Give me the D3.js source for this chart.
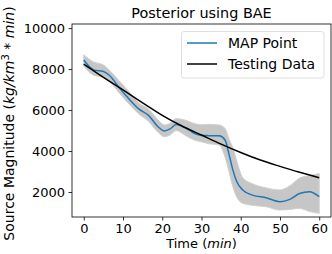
<!DOCTYPE html>
<html>
<head>
<meta charset="utf-8">
<script src="https://cdn.jsdelivr.net/npm/d3@7"></script>
<style>
  body { margin: 0; background: #fff; }
  text { font-family: "DejaVu Sans", sans-serif; fill: #000; }
</style>
</head>
<body>
<div id="chart"></div>
<script>
const width = 332,
  height = 254,
  margin = {top: 24, right: 1, bottom: 37, left: 72};

// time points (min) where the curves were read
const mapTimes = [0, 2.5, 5, 6.5, 9, 11.5, 14, 16.5, 19, 20.5, 22, 23.5, 26, 28, 30, 32, 34.5, 36, 37, 38, 39, 40.5, 43, 46.5, 50, 52.5, 55, 57.5, 60];
// MAP point (blue)
const mapValues = [8440, 7960, 7880, 7700, 7100, 6550, 6060, 5740, 5170, 4980, 5080, 5290, 5120, 4880, 4760, 4750, 4740, 4540, 3850, 3070, 2500, 2100, 1850, 1720, 1530, 1640, 1930, 2010, 1770];
// spread of the posterior samples (grey)
const bandUpper = [8700, 8350, 8200, 7950, 7430, 6900, 6350, 6050, 5500, 5270, 5350, 5580, 5500, 5350, 5280, 5300, 5270, 5100, 4600, 4150, 3500, 2700, 2400, 2200, 2100, 2300, 2680, 2800, 2900];
const bandLower = [8150, 7700, 7600, 7400, 6850, 6300, 5820, 5450, 4900, 4700, 4780, 5000, 4750, 4550, 4450, 4350, 4300, 3700, 3000, 2250, 1750, 1450, 1350, 1280, 1120, 1150, 1200, 1050, 960];

// testing data (black)
const testTimes = [0, 5, 10, 15, 20, 25, 30, 35, 40, 45, 50, 55, 60];
const testValues = [8240, 7600, 6980, 6350, 5740, 5220, 4780, 4340, 3930, 3560, 3250, 2960, 2700];

const xTicks = [0, 10, 20, 30, 40, 50, 60];
const yTicks = [2000, 4000, 6000, 8000, 10000];

const svg = d3.select("#chart").append("svg")
    .attr("width", width)
    .attr("height", height);

const x = d3.scaleLinear()
    .domain([-3, 63])
    .range([margin.left, width - margin.right]);

const y = d3.scaleLinear()
    .domain([780, 10200])
    .range([height - margin.bottom, margin.top]);

// grey band
const band = d3.area()
    .x(function(d, i) { return x(mapTimes[i]); })
    .y0(function(d, i) { return y(bandLower[i]); })
    .y1(function(d, i) { return y(bandUpper[i]); })
    .curve(d3.curveMonotoneX);

svg.append("path")
    .attr("d", band(mapTimes))
    .style("fill", "#c6c6c6")
    .style("stroke", "#d0d0d0")
    .style("stroke-width", 1);

const line = d3.line()
    .x(function(d) { return x(d[0]); })
    .y(function(d) { return y(d[1]); })
    .curve(d3.curveMonotoneX);

svg.append("path")
    .attr("d", line(d3.zip(mapTimes, mapValues)))
    .style("fill", "none")
    .style("stroke", "#1f77b4")
    .style("stroke-width", 1.5);

svg.append("path")
    .attr("d", line(d3.zip(testTimes, testValues)))
    .style("fill", "none")
    .style("stroke", "#000")
    .style("stroke-width", 1.5);

// axes
const xAxis = svg.append("g")
    .attr("transform", "translate(0," + (height - margin.bottom) + ")")
    .call(d3.axisBottom(x).tickValues(xTicks).tickSize(3.5).tickPadding(3.5).tickSizeOuter(0));

const yAxis = svg.append("g")
    .attr("transform", "translate(" + margin.left + ",0)")
    .call(d3.axisLeft(y).tickValues(yTicks).tickSize(3.5).tickPadding(3.5).tickSizeOuter(0).tickFormat(d3.format("d")));

[xAxis, yAxis].forEach(function(a) {
  a.select(".domain").remove();
  a.selectAll("line").style("stroke", "#000").style("stroke-width", 0.8);
  a.selectAll("text").style("font-size", "13px").style("font-family", "DejaVu Sans");
});

// frame
svg.append("rect")
    .attr("x", margin.left)
    .attr("y", margin.top)
    .attr("width", width - margin.left - margin.right)
    .attr("height", height - margin.top - margin.bottom)
    .style("fill", "none")
    .style("stroke", "#000")
    .style("stroke-width", 0.8);

// title
svg.append("text")
    .attr("x", (margin.left + width - margin.right) / 2)
    .attr("y", 18)
    .attr("text-anchor", "middle")
    .style("font-size", "14.4px")
    .text("Posterior using BAE");

// x label
const xl = svg.append("text")
    .attr("x", (margin.left + width - margin.right) / 2)
    .attr("y", 248)
    .attr("text-anchor", "middle")
    .style("font-size", "13px");
xl.append("tspan").text("Time (");
xl.append("tspan").style("font-style", "italic").text("min");
xl.append("tspan").text(")");

// y label
const yl = svg.append("text")
    .attr("transform", "translate(14," + ((margin.top + height - margin.bottom) / 2 + 3) + ") rotate(-90)")
    .attr("text-anchor", "middle")
    .style("font-size", "14px");
yl.append("tspan").text("Source Magnitude (");
yl.append("tspan").style("font-style", "italic").text("kg/km");
yl.append("tspan").attr("dy", -5).style("font-size", "10px").text("3");
yl.append("tspan").attr("dy", 5).text(" * ");
yl.append("tspan").style("font-style", "italic").text("min");
yl.append("tspan").text(")");

// legend
const legend = svg.append("g");
legend.append("rect")
    .attr("x", 181.5)
    .attr("y", 31.5)
    .attr("width", 142.5)
    .attr("height", 46.5)
    .attr("rx", 2.5)
    .style("fill", "#fff")
    .style("fill-opacity", 0.8)
    .style("stroke", "#d5d5d5")
    .style("stroke-width", 0.8);

const legendItems = [
  {label: "MAP Point", color: "#1f77b4"},
  {label: "Testing Data", color: "#000"}
];

legendItems.forEach(function(d, i) {
  const ly = 43 + i * 21;
  legend.append("line")
      .attr("x1", 187).attr("x2", 217)
      .attr("y1", ly).attr("y2", ly)
      .style("stroke", d.color)
      .style("stroke-width", 1.5);
  legend.append("text")
      .attr("x", 228)
      .attr("y", ly + 5)
      .style("font-size", "14px")
      .text(d.label);
});
</script>
</body>
</html>
